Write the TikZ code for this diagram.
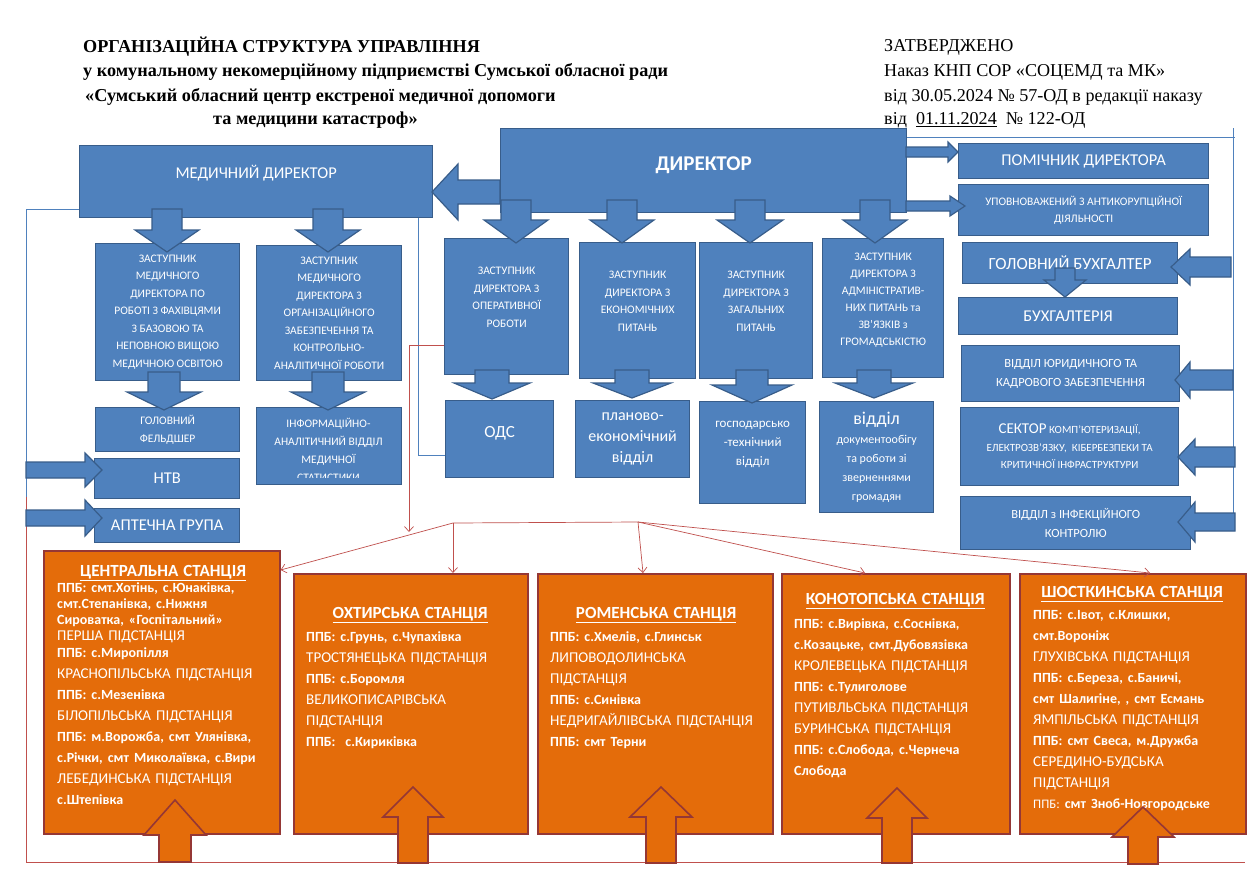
\documentclass[tikz,border=0pt]{standalone}
\usepackage{fontspec}
\setmainfont{Carlito}
\newfontfamily\timesfont{Liberation Serif}
\usetikzlibrary{arrows.meta,calc}

\definecolor{bluefill}{RGB}{79,129,189}
\definecolor{blueedge}{RGB}{56,93,138}
\definecolor{orangefill}{RGB}{228,108,10}
\definecolor{orangeedge}{RGB}{149,55,53}
\definecolor{redcol}{RGB}{192,80,77}

\newcommand{\fs}[2]{\fontsize{#1}{#2}\selectfont}
% vertical block arrow: style, centre x, tail y, head y, tip y, shaft half, head half
\newcommand{\vblock}[7]{\draw[#1] ({#2-#6},#3) -- ({#2+#6},#3) -- ({#2+#6},#4) -- ({#2+#7},#4) -- (#2,#5) -- ({#2-#7},#4) -- ({#2-#6},#4) -- cycle;}
% horizontal block arrow: style, centre y, tail x, head x, tip x, shaft half, head half
\newcommand{\hblock}[7]{\draw[#1] (#3,{#2-#6}) -- (#3,{#2+#6}) -- (#4,{#2+#6}) -- (#4,{#2+#7}) -- (#5,#2) -- (#4,{#2-#7}) -- (#4,{#2-#6}) -- cycle;}
% station heading
\newcommand{\stitle}[1]{\makebox[\hsize]{\fs{17}{21}\bfseries\underline{#1}}}
% empty last line, lifts the text in a box
\newcommand{\lift}[1]{\\[#1]\mbox{}}

\begin{document}
\begin{tikzpicture}[x=1pt,y=-1pt,
        bluebox/.style={draw=blueedge,fill=bluefill,line width=1.3pt,text=white,align=center,anchor=north west,inner sep=1pt},
        orangebox/.style={draw=orangeedge,fill=orangefill,line width=1.6pt,anchor=north west},
        stationtext/.style={text=white,align=left,anchor=north west,inner sep=0pt,font=\fs{15}{21}},
        blockarrow/.style={draw=blueedge,fill=bluefill,line width=1.2pt},
        orangearrow/.style={draw=orangeedge,fill=orangefill,line width=1.6pt},
        thinblue/.style={draw=bluefill,line width=0.7pt},
        redthin/.style={draw=redcol,line width=0.7pt},
        redtip/.style={-{Straight Barb[length=5pt,width=9pt]}},
        hdr/.style={anchor=west,inner sep=0pt,font=\timesfont\bfseries\fs{18.2}{20}},
        appr/.style={anchor=west,inner sep=0pt,font=\timesfont\fs{18.1}{20}}]

    \fill[white] (0,0) rectangle (1260,889);
    \useasboundingbox (0,0) rectangle (1260,889);

    % Title
    \node[hdr] (title1) at (83,47) {ОРГАНІЗАЦІЙНА СТРУКТУРА УПРАВЛІННЯ};
    \node[hdr] (title2) at (83,72) {у комунальному некомерційному підприємстві Сумської обласної ради};
    \node[hdr] (title3) at (85,97) {«Сумський обласний центр екстреної медичної допомоги};
    \node[hdr] (title4) at (213,120) {та медицини катастроф»};

    \node[appr] (appr1) at (884,47) {ЗАТВЕРДЖЕНО};
    \node[appr] (appr2) at (884,72) {Наказ КНП СОР «СОЦЕМД та МК»};
    \node[appr] (appr3) at (884,97) {від 30.05.2024 № 57-ОД в редакції наказу};
    \node[appr] (appr4) at (884,120) {від\ \ \underline{01.11.2024}\ \ № 122-ОД};

    % Thin lines
    \coordinate (lc) at (26,209);
    \coordinate (lr) at (26,497);
    \coordinate (mc) at (418,455);
    \coordinate (rc) at (1233,137);
    \coordinate (rb) at (1233,528);
    \coordinate (rs) at (409,345);
    \coordinate (hubL) at (453,523);
    \coordinate (hubR) at (638,522);
    \coordinate (bl) at (26,862);
    \coordinate (br) at (1245,862);

    % Top level
    \node[bluebox,minimum width=353pt,minimum height=72pt,font=\fs{16.5}{20}] (med) at (79,145) {МЕДИЧНИЙ ДИРЕКТОР\lift{-1pt}};
    \node[bluebox,minimum width=406pt,minimum height=84pt,font=\bfseries\fs{21}{24}] (dir) at (500,128) {ДИРЕКТОР\lift{-10pt}};

    \draw[thinblue] (lc) -- (lc -| med.west);
    \draw[thinblue] (lc) -- (lr);
    \draw[redthin] (lr) -- (bl) -- (br);
    \draw[thinblue] (med.south -| mc) -- (mc);
    \draw[thinblue] (dir.east |- rc) -- ($(rc)+(2,0)$);
    \draw[thinblue] ($(rc)+(0,-9)$) -- (rb);

    % Medical deputies
    \node[bluebox,minimum width=144pt,minimum height=137pt,font=\fs{11.5}{17.5}] (zmed1) at (95,243)
        {ЗАСТУПНИК\\МЕДИЧНОГО\\ДИРЕКТОРА ПО\\РОБОТІ З ФАХІВЦЯМИ\\З БАЗОВОЮ ТА\\НЕПОВНОЮ ВИЩОЮ\\МЕДИЧНОЮ ОСВІТОЮ};
    \node[bluebox,minimum width=145pt,minimum height=135pt,font=\fs{11.5}{17.5}] (zmed2) at (256,245)
        {ЗАСТУПНИК\\МЕДИЧНОГО\\ДИРЕКТОРА З\\ОРГАНІЗАЦІЙНОГО\\ЗАБЕЗПЕЧЕННЯ ТА\\КОНТРОЛЬНО-\\АНАЛІТИЧНОЇ РОБОТИ};
    \node[bluebox,minimum width=144pt,minimum height=44pt,font=\fs{11.5}{18}] (feld) at (95,407) {ГОЛОВНИЙ\\ФЕЛЬДШЕР};
    \node[bluebox,minimum width=145pt,minimum height=77pt] (infostat) at (256,407) {};
    \begin{scope}
        \clip (257,408) rectangle (400,477);
        \node[text=white,align=center,anchor=north,inner sep=0pt,font=\fs{11.5}{18}] (infotext) at (328.5,418)
            {ІНФОРМАЦІЙНО-\\АНАЛІТИЧНИЙ ВІДДІЛ\\МЕДИЧНОЇ\\СТАТИСТИКИ};
    \end{scope}
    \node[bluebox,minimum width=145pt,minimum height=40pt,font=\fs{16.5}{20}] (ntv) at (94,458) {НТВ};
    \node[bluebox,minimum width=145pt,minimum height=34pt,font=\fs{16.5}{20}] (apteka) at (94,508) {АПТЕЧНА ГРУПА};

    % Director deputies
    \node[bluebox,minimum width=124pt,minimum height=136pt,font=\fs{11.5}{17.5}] (zop) at (444,238)
        {ЗАСТУПНИК\\ДИРЕКТОРА З\\ОПЕРАТИВНОЇ\\РОБОТИ\lift{1.5pt}};
    \node[bluebox,minimum width=116pt,minimum height=136pt,font=\fs{11.5}{17.5}] (zek) at (579,242)
        {ЗАСТУПНИК\\ДИРЕКТОРА З\\ЕКОНОМІЧНИХ\\ПИТАНЬ\lift{1.5pt}};
    \node[bluebox,minimum width=113pt,minimum height=136pt,font=\fs{11.5}{17.5}] (zzag) at (699,242)
        {ЗАСТУПНИК\\ДИРЕКТОРА З\\ЗАГАЛЬНИХ\\ПИТАНЬ\lift{1.5pt}};
    \node[bluebox,minimum width=121pt,minimum height=139pt,font=\fs{11.5}{17}] (zadm) at (822,238)
        {ЗАСТУПНИК\\ДИРЕКТОРА З\\АДМІНІСТРАТИВ-\\НИХ ПИТАНЬ та\\ЗВ’ЯЗКІВ з\\ГРОМАДСЬКІСТЮ\lift{0pt}};

    % Departments
    \node[bluebox,minimum width=108pt,minimum height=77pt,font=\fs{17}{20}] (ods) at (445,400) {ОДС\lift{-5pt}};
    \node[bluebox,minimum width=114pt,minimum height=77pt,font=\fs{16}{21}] (plan) at (575,400) {планово-\\економічний\\відділ};
    \node[bluebox,minimum width=106pt,minimum height=102pt,font=\fs{13}{19}] (gosp) at (699,401) {господарсько\\-технічний\\відділ\lift{0pt}};
    \node[bluebox,minimum width=114pt,minimum height=111pt,font=\fs{12}{19}] (docs) at (819,401)
        {{\fs{18}{22}відділ}\\документообігу\\та роботи зі\\зверненнями\\громадян};

    % Right column
    \node[bluebox,minimum width=250pt,minimum height=35pt,font=\fs{16.5}{20}] (pomich) at (958,143) {ПОМІЧНИК ДИРЕКТОРА};
    \node[bluebox,minimum width=250pt,minimum height=51pt,font=\fs{11.5}{17}] (antikor) at (958,184) {УПОВНОВАЖЕНИЙ З АНТИКОРУПЦІЙНОЇ\\ДІЯЛЬНОСТІ};
    \node[bluebox,minimum width=215pt,minimum height=41pt,font=\fs{17}{20}] (buh) at (962,242) {ГОЛОВНИЙ БУХГАЛТЕР};
    \node[bluebox,minimum width=219pt,minimum height=37pt,font=\fs{16.5}{20}] (buhdep) at (958,297) {БУХГАЛТЕРІЯ};
    \node[bluebox,minimum width=218pt,minimum height=56pt,font=\fs{12.5}{19}] (yur) at (961,345) {ВІДДІЛ ЮРИДИЧНОГО ТА\\КАДРОВОГО ЗАБЕЗПЕЧЕННЯ};
    \node[bluebox,minimum width=218pt,minimum height=78pt,font=\fs{11}{17.5}] (sector) at (960,407)
        {{\fs{15}{18}СЕКТОР} КОМП’ЮТЕРИЗАЦІЇ,\\ЕЛЕКТРОЗВ’ЯЗКУ,\ \ КІБЕРБЕЗПЕКИ ТА\\КРИТИЧНОЇ ІНФРАСТРУКТУРИ};
    \node[bluebox,minimum width=230pt,minimum height=53pt,font=\fs{12.5}{19}] (infect) at (960,496) {ВІДДІЛ з ІНФЕКЦІЙНОГО\\КОНТРОЛЮ};

    % Connectors between blue boxes
    \draw[thinblue] (mc) -- (mc -| ods.west);
    \draw[redthin,redtip] (zop.west |- rs) -- (rs) -- ($(rs)+(0,187)$);

    \hblock{blockarrow}{192}{500}{458}{432}{12}{28}
    \hblock{blockarrow}{152}{906}{948}{958}{5}{10}
    \hblock{blockarrow}{206}{906}{950}{965}{5}{10}
    \vblock{blockarrow}{167}{209}{230}{252}{15}{32}
    \vblock{blockarrow}{328}{209}{230}{252}{15}{32}
    \vblock{blockarrow}{516}{200}{220}{243}{15}{32}
    \vblock{blockarrow}{622}{200}{220}{243}{15}{32}
    \vblock{blockarrow}{750}{200}{220}{243}{15}{33}
    \vblock{blockarrow}{875}{200}{220}{243}{15}{32}
    \vblock{blockarrow}{164}{372}{392}{410}{16}{37}
    \vblock{blockarrow}{328}{372}{392}{410}{16}{37}
    \vblock{blockarrow}{492}{370}{383}{399}{17}{38}
    \vblock{blockarrow}{632}{370}{383}{398}{17}{39}
    \vblock{blockarrow}{752}{370}{385}{403}{16}{40}
    \vblock{blockarrow}{874}{370}{383}{398}{17}{39}
    \vblock{blockarrow}{1065}{268}{280}{297}{10}{21}
    \hblock{blockarrow}{267}{1231}{1190}{1171}{10}{18}
    \hblock{blockarrow}{380}{1233}{1190}{1175}{10}{18}
    \hblock{blockarrow}{457}{1235}{1195}{1178}{10}{18}
    \hblock{blockarrow}{522}{1235}{1195}{1178}{9}{20}
    \hblock{blockarrow}{470}{26}{85}{102}{8}{17}
    \hblock{blockarrow}{518}{26}{85}{102}{8}{18}

    % Stations
    \node[orangebox,minimum width=236pt,minimum height=283pt] (central) at (43,550) {};
    \node[orangebox,minimum width=234pt,minimum height=260pt] (ohtyr) at (293,573) {};
    \node[orangebox,minimum width=235pt,minimum height=260pt] (romny) at (537,573) {};
    \node[orangebox,minimum width=228pt,minimum height=260pt] (konotop) at (781,573) {};
    \node[orangebox,minimum width=226pt,minimum height=260pt] (shostka) at (1019,573) {};

    \node[stationtext,text width=212pt] (centraltext) at (57,565) {%
        \stitle{ЦЕНТРАЛЬНА СТАНЦІЯ}\\[-5pt]
        \textbf{\fs{14}{21}ППБ: смт.Хотінь, с.Юнаківка,}\\[-5pt]
        \textbf{\fs{14}{21}смт.Степанівка, с.Нижня}\\[-5pt]
        \textbf{\fs{14}{21}Сироватка, «Госпітальний»}\\[-5pt]
        ПЕРША ПІДСТАНЦІЯ\\[-4pt]
        \textbf{\fs{14}{21}ППБ: с.Миропілля}\\
        КРАСНОПІЛЬСЬКА ПІДСТАНЦІЯ\\
        \textbf{\fs{14}{21}ППБ: с.Мезенівка}\\
        БІЛОПІЛЬСЬКА ПІДСТАНЦІЯ\\
        \textbf{\fs{14}{21}ППБ: м.Ворожба, смт Улянівка,}\\
        \textbf{\fs{14}{21}с.Річки, смт Миколаївка, с.Вири}\\
        ЛЕБЕДИНСЬКА ПІДСТАНЦІЯ\\
        \textbf{\fs{14}{21}с.Штепівка}};
    \node[stationtext,text width=208pt] (ohtyrtext) at (306,607) {%
        \stitle{ОХТИРСЬКА СТАНЦІЯ}\\[2pt]
        \textbf{\fs{14}{21}ППБ: с.Грунь, с.Чупахівка}\\
        ТРОСТЯНЕЦЬКА ПІДСТАНЦІЯ\\
        \textbf{\fs{14}{21}ППБ: с.Боромля}\\
        ВЕЛИКОПИСАРІВСЬКА\\
        ПІДСТАНЦІЯ\\
        \textbf{\fs{14}{21}ППБ:\ \ с.Кириківка}};
    \node[stationtext,text width=212pt] (romnytext) at (550,607) {%
        \stitle{РОМЕНСЬКА СТАНЦІЯ}\\[2pt]
        \textbf{\fs{14}{21}ППБ: с.Хмелів, с.Глинськ}\\
        ЛИПОВОДОЛИНСЬКА\\
        ПІДСТАНЦІЯ\\
        \textbf{\fs{14}{21}ППБ: с.Синівка}\\
        НЕДРИГАЙЛІВСЬКА ПІДСТАНЦІЯ\\
        \textbf{\fs{14}{21}ППБ: смт Терни}};
    \node[stationtext,text width=202pt] (konotoptext) at (794,593) {%
        \stitle{КОНОТОПСЬКА СТАНЦІЯ}\\[3pt]
        \textbf{\fs{14}{21}ППБ: с.Вирівка, с.Соснівка,}\\
        \textbf{\fs{14}{21}с.Козацьке, смт.Дубовязівка}\\
        КРОЛЕВЕЦЬКА ПІДСТАНЦІЯ\\
        \textbf{\fs{14}{21}ППБ: с.Тулиголове}\\
        ПУТИВЛЬСЬКА ПІДСТАНЦІЯ\\
        БУРИНСЬКА ПІДСТАНЦІЯ\\
        \textbf{\fs{14}{21}ППБ: с.Слобода, с.Чернеча}\\
        \textbf{\fs{14}{21}Слобода}};
    \node[stationtext,text width=198pt] (shostkatext) at (1033,586) {%
        \stitle{ШОСТКИНСЬКА СТАНЦІЯ}\\[1pt]
        \textbf{\fs{14}{21}ППБ: с.Івот, с.Клишки,}\\
        \textbf{\fs{14}{21}смт.Вороніж}\\
        ГЛУХІВСЬКА ПІДСТАНЦІЯ\\
        \textbf{\fs{14}{21}ППБ: с.Береза, с.Баничі,}\\
        \textbf{\fs{14}{21}смт Шалигіне, , смт Есмань}\\
        ЯМПІЛЬСЬКА ПІДСТАНЦІЯ\\
        \textbf{\fs{14}{21}ППБ: смт Свеса, м.Дружба}\\
        СЕРЕДИНО-БУДСЬКА\\
        ПІДСТАНЦІЯ\\
        {\fs{13}{21}ППБ:} \textbf{\fs{14}{21}смт Зноб-Новгородське}};

    % Red links to stations
    \draw[redthin] (hubL) -- (hubR);
    \draw[redthin,redtip] (hubL) -- (central.east |- 0,570);
    \draw[redthin,redtip] (hubL) -- (hubL |- ohtyr.north);
    \draw[redthin,redtip] (hubR) -- (romny.north -| 643,0);
    \draw[redthin,redtip] (hubR) -- (konotop.north -| 865,0);
    \draw[redthin,redtip] (hubR) -- (shostka.north -| 1150,0);

    % Up arrows into stations
    \vblock{orangearrow}{175}{862}{835}{800}{16}{31}
    \vblock{orangearrow}{413}{863}{817}{787}{15}{30}
    \vblock{orangearrow}{661}{863}{817}{787}{15}{31}
    \vblock{orangearrow}{897}{863}{818}{788}{15}{30}
    \vblock{orangearrow}{1143}{864}{837}{807}{15}{31}
\end{tikzpicture}
\end{document}
